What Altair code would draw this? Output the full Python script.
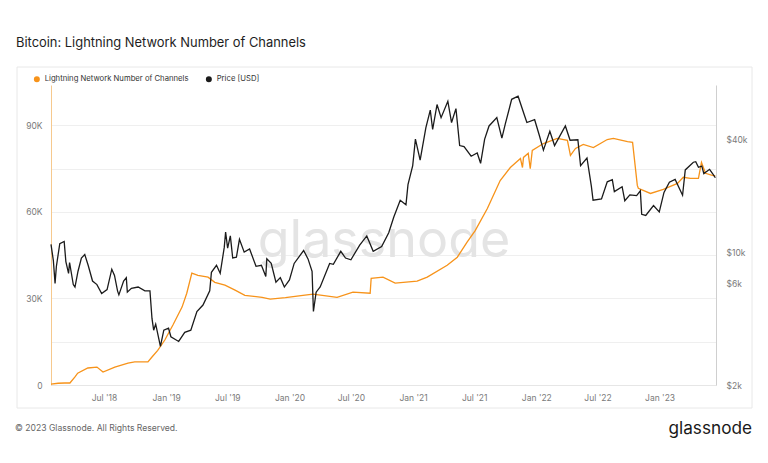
import altair as alt
import pandas as pd

LN_NAME = "Lightning Network Number of Channels"
PRICE_NAME = "Price [USD]"

ln_dates = [
    "2018-01-25", "2018-02-15", "2018-03-07", "2018-03-22", "2018-04-06", "2018-04-14",
    "2018-05-14", "2018-06-10", "2018-06-28", "2018-08-02", "2018-09-10", "2018-09-30",
    "2018-11-08", "2018-11-20", "2018-12-07", "2018-12-28", "2019-01-21", "2019-02-17",
    "2019-03-03", "2019-03-18", "2019-04-05", "2019-05-05", "2019-05-25", "2019-06-24",
    "2019-07-24", "2019-08-22", "2019-10-12", "2019-11-05", "2019-12-20", "2020-02-10",
    "2020-03-11", "2020-05-21", "2020-07-07", "2020-08-27", "2020-08-30", "2020-10-04",
    "2020-11-09", "2021-01-13", "2021-02-12", "2021-04-12", "2021-05-12", "2021-06-10",
    "2021-07-04", "2021-08-09", "2021-09-16", "2021-10-16", "2021-11-15", "2021-11-21",
    "2021-11-24", "2021-12-08", "2021-12-14", "2021-12-20", "2022-01-22", "2022-03-04",
    "2022-04-03", "2022-04-12", "2022-04-27", "2022-05-20", "2022-06-19", "2022-07-30",
    "2022-08-17", "2022-09-28", "2022-10-13", "2022-10-27", "2022-10-30", "2022-12-05",
    "2023-01-12", "2023-02-23", "2023-03-12", "2023-04-02", "2023-04-26", "2023-05-05",
    "2023-05-17", "2023-06-06", "2023-06-15",
]
ln_values = [
    300, 600, 700, 700, 2800, 4100,
    5900, 6200, 4500, 6200, 7600, 8000,
    8000, 9700, 12000, 15600, 20800, 27000,
    31800, 38800, 38000, 37400, 35600, 34600,
    32900, 31100, 30400, 29800, 30300, 31100,
    31500, 30400, 32200, 31800, 37000, 37400,
    35300, 36000, 37400, 41500, 44300, 49500,
    53500, 61200, 70900, 75400, 78500, 75400,
    78900, 80300, 75000, 81300, 83700, 85500,
    84800, 79600, 82000, 83400, 82300, 85100,
    85500, 84400, 84100, 69200, 68200, 66400,
    67800, 69900, 72000, 71600, 71600, 77200,
    73400, 72700, 72500,
]

price_dates = [
    "2018-01-25", "2018-02-01", "2018-02-06", "2018-02-10", "2018-02-20", "2018-03-05",
    "2018-03-10", "2018-03-18", "2018-03-21", "2018-04-01", "2018-04-06", "2018-04-15",
    "2018-04-25", "2018-05-05", "2018-05-15", "2018-05-28", "2018-06-10", "2018-06-24",
    "2018-07-10", "2018-07-24", "2018-08-01", "2018-08-10", "2018-08-14", "2018-08-28",
    "2018-09-05", "2018-09-08", "2018-09-20", "2018-10-10", "2018-10-30", "2018-11-14",
    "2018-11-20", "2018-11-25", "2018-12-01", "2018-12-15", "2018-12-25", "2019-01-08",
    "2019-01-15", "2019-02-07", "2019-02-25", "2019-03-15", "2019-04-02", "2019-04-20",
    "2019-05-10", "2019-05-15", "2019-05-30", "2019-06-10", "2019-06-22", "2019-06-26",
    "2019-07-02", "2019-07-10", "2019-07-17", "2019-07-28", "2019-08-06", "2019-08-20",
    "2019-09-05", "2019-09-24", "2019-10-10", "2019-10-23", "2019-10-26", "2019-11-08",
    "2019-11-22", "2019-12-05", "2019-12-17", "2020-01-01", "2020-01-15", "2020-02-12",
    "2020-02-25", "2020-03-08", "2020-03-12", "2020-03-20", "2020-04-01", "2020-04-29",
    "2020-05-10", "2020-06-01", "2020-06-15", "2020-07-01", "2020-07-27", "2020-08-17",
    "2020-09-05", "2020-09-30", "2020-10-21", "2020-11-05", "2020-11-24", "2020-12-11",
    "2020-12-17", "2020-12-31", "2021-01-08", "2021-01-22", "2021-02-08", "2021-02-21",
    "2021-02-28", "2021-03-13", "2021-03-25", "2021-04-14", "2021-04-25", "2021-05-08",
    "2021-05-19", "2021-06-01", "2021-06-22", "2021-07-10", "2021-07-20", "2021-08-01",
    "2021-08-14", "2021-09-06", "2021-09-21", "2021-10-01", "2021-10-20", "2021-11-08",
    "2021-11-26", "2021-12-04", "2021-12-27", "2022-01-10", "2022-01-22", "2022-02-10",
    "2022-02-24", "2022-03-28", "2022-04-11", "2022-05-04", "2022-05-12", "2022-05-31",
    "2022-06-13", "2022-06-18", "2022-07-13", "2022-07-30", "2022-08-14", "2022-08-20",
    "2022-09-12", "2022-09-20", "2022-10-05", "2022-10-25", "2022-11-05", "2022-11-09",
    "2022-11-21", "2022-12-14", "2022-12-31", "2023-01-14", "2023-01-30", "2023-02-16",
    "2023-03-10", "2023-03-18", "2023-04-11", "2023-04-18", "2023-04-26", "2023-05-06",
    "2023-05-12", "2023-05-29", "2023-06-10", "2023-06-15",
]
price_values = [
    11100, 9100, 6900, 8500, 11200, 11500,
    9000, 7800, 8900, 6800, 6600, 8000,
    9400, 9800, 8600, 7100, 6800, 6100,
    6400, 8200, 7600, 6300, 6000, 7100,
    7400, 6200, 6500, 6600, 6300, 6300,
    4500, 3900, 4200, 3200, 3900, 4000,
    3600, 3400, 3800, 3900, 4900, 5300,
    6300, 7900, 8600, 7800, 10700, 12900,
    10600, 12300, 9400, 9500, 11800, 10100,
    10500, 8500, 8600, 7500, 9300, 8800,
    7000, 7400, 6600, 7200, 8800, 10300,
    9300, 8000, 4900, 6200, 6600, 8800,
    8700, 10200, 9400, 9200, 11000, 12300,
    10200, 10800, 12800, 15500, 19000, 18000,
    23000, 29000, 40000, 31000, 46000, 57000,
    45000, 61000, 52000, 63500, 49000, 58000,
    37000, 36500, 32500, 33800, 29800, 40000,
    47000, 52000, 40500, 48000, 65000, 67500,
    54000, 49000, 50700, 41800, 35000, 44000,
    37000, 47000, 39500, 39700, 29000, 31800,
    22500, 19000, 19300, 23800, 24400, 21100,
    22400, 18900, 20300, 20100, 21300, 16000,
    15800, 17800, 16500, 20900, 23700, 24500,
    20200, 27500, 30200, 30400, 28400, 28800,
    26300, 27700, 25800, 25000,
]

x_tick_dates = [(2018, 7), (2019, 1), (2019, 7), (2020, 1), (2020, 7),
                (2021, 1), (2021, 7), (2022, 1), (2022, 7), (2023, 1)]
left_grid_values = [0, 15000, 30000, 45000, 60000, 75000, 90000]
right_tick_values = [2000, 6850, 10000, 40000]

ln_df = pd.DataFrame({"date": ln_dates, "channels": ln_values, "series": LN_NAME})
price_df = pd.DataFrame({"date": price_dates, "price": price_values, "series": PRICE_NAME})

FONT = "Inter"
ORANGE = "#f7931a"
BLACK = "#1b1b1b"

x_enc = alt.X(
    "date:T",
    scale=alt.Scale(domain=[alt.DateTime(year=2018, month=1, date=25),
                            alt.DateTime(year=2023, month=6, date=17)]),
    axis=alt.Axis(
        title=None,
        values=[alt.DateTime(year=y, month=m, date=1) for y, m in x_tick_dates],
        format="%b '%y",
        labelColor="#7a7a7a", labelFontSize=8.5, labelFont=FONT,
        domainColor="#e6e6e6", ticks=False, grid=False, labelPadding=8,
    ),
)

color_scale = alt.Scale(domain=[LN_NAME, PRICE_NAME], range=[ORANGE, BLACK])
legend = alt.Legend(
    title=None, orient="none", legendX=-18, legendY=-10, direction="horizontal",
    symbolType="circle", symbolSize=9, symbolStrokeWidth=3,
    labelFontSize=7.7, labelFont=FONT, labelColor="#333333",
    columnPadding=12, padding=0, labelOffset=4,
)
color_enc = alt.Color("series:N", scale=color_scale, legend=legend)

ln_line = alt.Chart(ln_df).mark_line(strokeWidth=1.3).encode(
    x=x_enc,
    y=alt.Y(
        "channels:Q",
        scale=alt.Scale(domain=[0, 104000], nice=False, zero=False),
        axis=alt.Axis(
            title=None, orient="left", values=left_grid_values,
            labelExpr="datum.value == 0 ? '0' : (datum.value % 30000 == 0 ? (datum.value / 1000) + 'K' : '')",
            labelColor="#7a7a7a", labelFontSize=8.5, labelFont=FONT,
            ticks=False, domainColor="#f6c98e", gridColor="#efefef",
            labelPadding=9,
        ),
    ),
    color=color_enc,
)

price_line = alt.Chart(price_df).mark_line(strokeWidth=1.3).encode(
    x=x_enc,
    y=alt.Y(
        "price:Q",
        scale=alt.Scale(type="log", domain=[2000, 77400], nice=False),
        axis=alt.Axis(
            title=None, orient="right", values=right_tick_values,
            labelExpr="'$' + floor(datum.value / 1000) + 'k'",
            labelColor="#7a7a7a", labelFontSize=8.5, labelFont=FONT,
            ticks=False, grid=False, domainColor="#cfcfcf", labelPadding=10,
        ),
    ),
    color=color_enc,
)

deco = pd.DataFrame({"k": [0]})
border = alt.Chart(deco).mark_rect(filled=False, stroke="#e8e8e8", strokeWidth=1).encode(
    x=alt.value(-34), x2=alt.value(701), y=alt.value(-18), y2=alt.value(323)
)
watermark = alt.Chart(deco).mark_text(
    text="glassnode", font=FONT, fontSize=52, color="#e4e4e4", align="center", baseline="middle"
).encode(x=alt.value(333), y=alt.value(156))
title = alt.Chart(deco).mark_text(
    text="Bitcoin: Lightning Network Number of Channels", font=FONT, fontSize=12.9,
    fontWeight=400, color="#1e1e1e", align="left", baseline="middle"
).encode(x=alt.value(-35), y=alt.value(-42))
footer = alt.Chart(deco).mark_text(
    text="© 2023 Glassnode. All Rights Reserved.", font=FONT, fontSize=8.6,
    color="#666666", align="left", baseline="middle"
).encode(x=alt.value(-36), y=alt.value(343))
logo = alt.Chart(deco).mark_text(
    text="glassnode", font=FONT, fontSize=17.2, color="#1a1a1a", align="right", baseline="middle"
).encode(x=alt.value(701), y=alt.value(344))

chart = alt.layer(
    border, watermark, ln_line, price_line, title, footer, logo
).resolve_scale(y="independent").properties(
    width=665, height=300,
    autosize=alt.AutoSizeParams(type="none"),
    padding={"left": 43, "top": 77, "right": 44, "bottom": 70},
    background="white",
).configure_view(strokeWidth=0)

chart.save("out.html", embed_options={"renderer": "svg", "actions": False})
